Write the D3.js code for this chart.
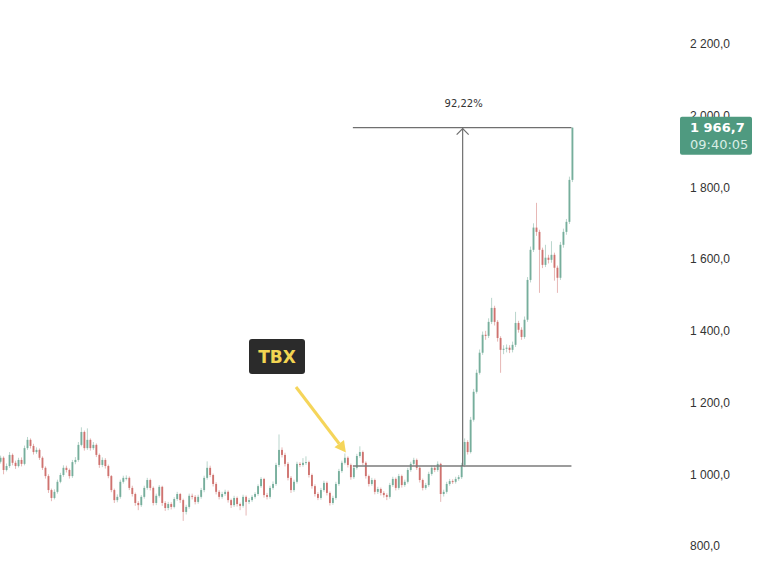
<!DOCTYPE html>
<html>
<head>
<meta charset="utf-8">
<script src="https://cdn.jsdelivr.net/npm/d3@7"></script>
<style>
  body { margin: 0; background: #fff; }
  svg { display: block; font-family: 'DejaVu Sans', sans-serif; }
</style>
</head>
<body>
<svg id="chart"></svg>
<script>
// Candle data (open = previous close)
const firstOpen = 1035;
const closes = [
  1046, 1012, 1023, 1054, 1032, 1023, 1040, 1029, 1073, 1096, 1079, 1062, 1068, 1046, 1018, 995,
  956, 934, 951, 979, 998, 1018, 1012, 995, 1034, 1040, 1082, 1118, 1073, 1096, 1073, 1082,
  1054, 1026, 1040, 1023, 995, 956, 928, 937, 979, 990, 990, 962, 945, 920, 914, 937,
  962, 984, 962, 920, 940, 965, 920, 906, 917, 909, 931, 945, 928, 895, 909, 940,
  937, 923, 937, 956, 990, 1018, 998, 973, 951, 937, 945, 951, 928, 914, 934, 917,
  912, 937, 923, 928, 937, 945, 967, 987, 942, 937, 962, 973, 1026, 1068, 1054, 1029,
  990, 956, 979, 1029, 1026, 1032, 1034, 998, 967, 945, 934, 956, 976, 948, 920, 934,
  973, 1009, 1032, 1046, 1026, 992, 1018, 1051, 1062, 1032, 995, 973, 984, 951, 959, 948,
  942, 937, 970, 987, 962, 995, 970, 979, 1012, 1029, 1040, 1018, 984, 962, 970, 1001,
  1018, 1012, 1029, 945, 951, 973, 981, 979, 987, 992, 1026, 1090, 1062, 1152, 1230, 1283,
  1339, 1389, 1386, 1425, 1464, 1425, 1380, 1347, 1350, 1353, 1347, 1361, 1422, 1403, 1383, 1431,
  1542, 1626, 1688, 1676, 1626, 1584, 1604, 1598, 1612, 1576, 1548, 1640, 1676, 1704, 1821, 1966.7
];
const highs = [
  1052, 1050, 1030, 1062, 1058, 1038, 1046, 1047, 1080, 1104, 1100, 1085, 1075, 1072, 1050, 1022,
  1000, 960, 958, 985, 1004, 1025, 1024, 1016, 1040, 1048, 1090, 1131, 1122, 1128, 1100, 1090,
  1086, 1058, 1047, 1045, 1027, 998, 960, 944, 985, 996, 997, 994, 968, 949, 925, 942,
  968, 990, 988, 966, 946, 970, 968, 925, 923, 922, 936, 951, 948, 932, 915, 946,
  946, 942, 943, 962, 996, 1036, 1024, 1002, 978, 956, 951, 957, 955, 932, 940, 938,
  921, 943, 941, 934, 942, 950, 972, 992, 990, 948, 968, 980, 1032, 1111, 1075, 1060,
  1034, 995, 985, 1035, 1034, 1045, 1050, 1038, 1002, 972, 950, 962, 982, 980, 952, 940,
  979, 1015, 1038, 1058, 1050, 1030, 1024, 1057, 1078, 1066, 1036, 999, 990, 988, 965, 963,
  953, 947, 976, 993, 991, 1001, 999, 985, 1018, 1035, 1046, 1044, 1022, 988, 976, 1007,
  1024, 1024, 1036, 1032, 957, 979, 987, 986, 993, 998, 1032, 1100, 1095, 1160, 1238, 1292,
  1348, 1398, 1400, 1435, 1492, 1470, 1430, 1385, 1360, 1362, 1360, 1370, 1453, 1428, 1410, 1440,
  1550, 1635, 1700, 1757, 1682, 1632, 1640, 1612, 1650, 1618, 1582, 1648, 1685, 1712, 1830, 1967
];
const lows = [
  1030, 1000, 1008, 1018, 1025, 1015, 1019, 1022, 1025, 1068, 1072, 1055, 1057, 1040, 1012, 988,
  948, 925, 930, 946, 975, 993, 1005, 988, 990, 1028, 1035, 1078, 1066, 1068, 1066, 1068,
  1048, 1018, 1020, 1016, 989, 950, 920, 922, 932, 974, 983, 956, 938, 912, 900, 909,
  932, 957, 955, 913, 914, 935, 912, 898, 900, 902, 905, 926, 920, 870, 888, 904,
  930, 916, 918, 932, 950, 985, 992, 966, 944, 930, 932, 940, 921, 906, 909, 910,
  900, 907, 885, 917, 923, 932, 940, 962, 935, 930, 932, 957, 968, 1020, 1047, 1022,
  983, 948, 951, 974, 1020, 1021, 1026, 991, 960, 938, 928, 929, 951, 941, 913, 915,
  929, 968, 1004, 1027, 1019, 985, 987, 1013, 1046, 1026, 988, 966, 968, 944, 945, 941,
  935, 928, 932, 965, 955, 957, 963, 965, 974, 1007, 1024, 1012, 977, 955, 957, 965,
  996, 1006, 1007, 923, 938, 946, 968, 973, 974, 982, 987, 1020, 1055, 1058, 1147, 1225,
  1278, 1333, 1375, 1380, 1419, 1415, 1370, 1283, 1335, 1340, 1338, 1340, 1355, 1395, 1375, 1378,
  1425, 1535, 1620, 1665, 1506, 1575, 1578, 1588, 1590, 1540, 1506, 1542, 1632, 1668, 1698, 1815
];
const priceTicks = [800, 1000, 1200, 1400, 1600, 1800, 2000, 2200];
const lastPrice = 1966.7;
const lastTime = '09:40:05';
const measureBase = 1023.15;
const measureFrom = 118;   // candle index where the measure lines start
const measureAt = 154;     // candle index of the vertical arrow
const tagText = 'TBX';
const tagCandle = 115;     // candle the yellow arrow points to

const W = 758, H = 565;
const svg = d3.select('#chart').attr('width', W).attr('height', H);

const fmt = d3.formatLocale({ decimal: ',', thousands: ' ', grouping: [3], currency: ['', ''] }).format(',.1f');

const candles = closes.map((c, i) => ({
  i, o: i === 0 ? firstOpen : closes[i - 1], c, h: highs[i], l: lows[i]
}));

const x = d3.scaleBand()
  .domain(d3.range(candles.length))
  .range([-1.5, candles.length * 3 - 1.5])
  .padding(0.38);
const cx = i => x(i) + x.bandwidth() / 2;

const y = d3.scaleLinear().domain([800, 2200]).range([546, 44]);

const upColor = '#5fa18b';
const downColor = '#c75a56';

// price axis
const axis = d3.axisRight(y).tickValues(priceTicks).tickFormat(fmt).tickSize(0).tickPadding(0);
const ax = svg.append('g').attr('transform', 'translate(690,0)').call(axis);
ax.select('.domain').remove();
ax.selectAll('text').attr('font-size', 12).attr('fill', '#333').attr('x', 0);

// candles
const cg = svg.append('g').attr('opacity', 0.85);
cg.selectAll('line.wick').data(candles).enter().append('line')
  .attr('x1', d => cx(d.i)).attr('x2', d => cx(d.i))
  .attr('y1', d => y(d.h)).attr('y2', d => y(d.l))
  .attr('stroke', d => d.c >= d.o ? upColor : downColor)
  .attr('stroke-opacity', 0.5)
  .attr('stroke-width', 1);
cg.selectAll('rect.body').data(candles).enter().append('rect')
  .attr('x', d => x(d.i))
  .attr('width', x.bandwidth())
  .attr('y', d => y(Math.max(d.o, d.c)))
  .attr('height', d => Math.max(1, Math.abs(y(d.o) - y(d.c))))
  .attr('fill', d => d.c >= d.o ? upColor : downColor);

// measure tool
const xStart = cx(measureFrom) - 1, xEnd = cx(candles.length - 1) - 1, xm = cx(measureAt) + 1;
svg.append('line').attr('x1', xStart).attr('x2', xEnd)
  .attr('y1', y(measureBase)).attr('y2', y(measureBase))
  .attr('stroke', '#7b7b7b').attr('stroke-width', 1.6);
svg.append('line').attr('x1', xStart).attr('x2', xEnd)
  .attr('y1', y(lastPrice)).attr('y2', y(lastPrice))
  .attr('stroke', '#6f6f6f').attr('stroke-width', 1.2);
svg.append('line').attr('x1', xm).attr('x2', xm)
  .attr('y1', y(measureBase)).attr('y2', y(lastPrice))
  .attr('stroke', '#6f6f6f').attr('stroke-width', 1.2);
svg.append('path')
  .attr('d', `M${xm - 6},${y(lastPrice) + 7}L${xm},${y(lastPrice) + 1}L${xm + 6},${y(lastPrice) + 7}`)
  .attr('fill', 'none').attr('stroke', '#6f6f6f').attr('stroke-width', 1.2);
const pct = (lastPrice / measureBase - 1) * 100;
svg.append('text').attr('x', xm + 1).attr('y', y(lastPrice) - 21)
  .attr('text-anchor', 'middle').attr('font-size', 10).attr('fill', '#333')
  .text(pct.toFixed(2).replace('.', ',') + '%');

// last price tag (covers the lower half of the 2 000,0 label, as in the original)
const tag = svg.append('g').attr('transform', `translate(680,${y(lastPrice) - 11})`);
tag.append('rect').attr('width', 72).attr('height', 38).attr('rx', 2).attr('fill', '#4f9a80');
tag.append('text').attr('x', 10).attr('y', 15).attr('font-size', 13).attr('font-weight', 'bold')
  .attr('fill', '#fff').text(fmt(lastPrice));
tag.append('text').attr('x', 10).attr('y', 32).attr('font-size', 13)
  .attr('fill', '#d9eee6').text(lastTime);

// TBX callout
const lab = svg.append('g').attr('transform', 'translate(249,339)');
lab.append('rect').attr('width', 56).attr('height', 35).attr('rx', 3).attr('fill', '#2b2b2b');
lab.append('text').attr('x', 28).attr('y', 24).attr('text-anchor', 'middle')
  .attr('font-size', 17).attr('font-weight', 'bold').attr('fill', '#f2d552').text(tagText);

const ax0 = 296, ay0 = 387;
const ax1 = cx(tagCandle) + 1, ay1 = y(highs[tagCandle]) - 1;
const ang = Math.atan2(ay1 - ay0, ax1 - ax0);
const hl = 11, hw = 6;
const bx = ax1 - hl * Math.cos(ang), by = ay1 - hl * Math.sin(ang);
svg.append('line').attr('x1', ax0).attr('y1', ay0).attr('x2', bx).attr('y2', by)
  .attr('stroke', '#f5d55a').attr('stroke-width', 3);
svg.append('path')
  .attr('d', `M${ax1},${ay1}L${bx + hw * Math.sin(ang)},${by - hw * Math.cos(ang)}L${bx - hw * Math.sin(ang)},${by + hw * Math.cos(ang)}Z`)
  .attr('fill', '#f5d55a');
</script>
</body>
</html>
